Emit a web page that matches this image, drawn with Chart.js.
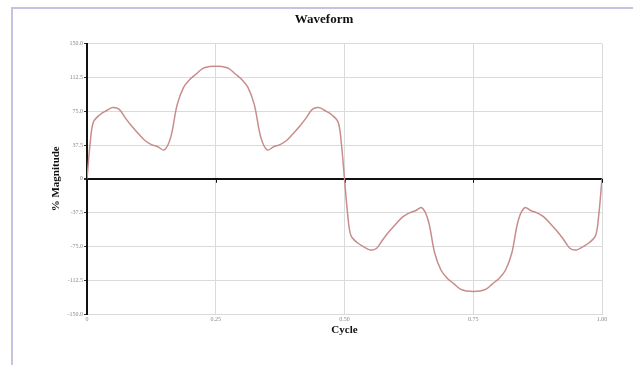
<!DOCTYPE html>
<html>
<head>
<meta charset="utf-8">
<title>Waveform</title>
<script src="https://cdn.jsdelivr.net/npm/chart.js@4.4.1/dist/chart.umd.min.js"></script>
<style>
  html, body { margin: 0; padding: 0; background: #ffffff; overflow: hidden; }
  #frame {
    position: absolute; left: 11px; top: 7px; width: 640px; height: 380px;
    border-left: 2px solid #c3c3e3; border-top: 2px solid #c3c3e3;
  }
  #wrap { position: absolute; left: 12px; top: 8px; width: 621px; height: 357px; }
</style>
</head>
<body>
<div id="frame"></div>
<div id="wrap"><canvas id="chart" width="621" height="357"></canvas></div>
<script>
// One cycle of the waveform: position in the cycle and % magnitude
const cycle = [
  0, 0.00625, 0.0125, 0.025, 0.0375, 0.05, 0.0625, 0.075, 0.0875, 0.1,
  0.1125, 0.125, 0.1375, 0.15, 0.1625, 0.175, 0.1875, 0.2, 0.2125, 0.225,
  0.2375, 0.25, 0.2625, 0.275, 0.2875, 0.3, 0.3125, 0.325, 0.3375, 0.35,
  0.3625, 0.375, 0.3875, 0.4, 0.4125, 0.425, 0.4375, 0.45, 0.4625, 0.475,
  0.4875, 0.49375, 0.5,
  0.50625, 0.5125, 0.525, 0.5375, 0.55, 0.5625, 0.575, 0.5875, 0.6,
  0.6125, 0.625, 0.6375, 0.65, 0.6625, 0.675, 0.6875, 0.7, 0.7125, 0.725,
  0.7375, 0.75, 0.7625, 0.775, 0.7875, 0.8, 0.8125, 0.825, 0.8375, 0.85,
  0.8625, 0.875, 0.8875, 0.9, 0.9125, 0.925, 0.9375, 0.95, 0.9625, 0.975,
  0.9875, 0.99375, 1.0
];
const magnitude = [
  0, 40, 63, 71, 75.5, 79, 77, 67, 58, 50,
  42.5, 38, 35.5, 32, 46, 82, 101.5, 110.5, 116.5, 122.5,
  124.5, 125, 124.5, 122.5, 116.5, 110.5, 101.5, 82, 46, 32,
  35.5, 38, 42.5, 50, 58, 67, 77, 79, 75.5, 71,
  63, 40, 0,
  -40, -63, -71, -75.5, -79, -77, -67, -58, -50,
  -42.5, -38, -35.5, -32, -46, -82, -101.5, -110.5, -116.5, -122.5,
  -124.5, -125, -124.5, -122.5, -116.5, -110.5, -101.5, -82, -46, -32,
  -35.5, -38, -42.5, -50, -58, -67, -77, -79, -75.5, -71,
  -63, -40, 0
];
const xTickValues = [0, 0.25, 0.5, 0.75, 1.0];
const xTickLabels = ['0', '0.25', '0.50', '0.75', '1.00'];
const yTickValues = [-150, -112.5, -75, -37.5, 0, 37.5, 75, 112.5, 150];
const yTickLabels = ['-150.0', '-112.5', '-75.0', '-37.5', '0', '37.5', '75.0', '112.5', '150.0'];

const serif = '"Liberation Serif", "Times New Roman", "DejaVu Serif", serif';
const gridGrey = '#dadada';

// short black ticks hanging off the zero line at each cycle mark
const zeroLineTicks = {
  id: 'zeroLineTicks',
  beforeDatasetsDraw(chart) {
    const { ctx, scales: { x, y } } = chart;
    const y0 = y.getPixelForValue(0);
    ctx.save();
    ctx.strokeStyle = '#111';
    ctx.lineWidth = 1;
    xTickValues.forEach(v => {
      if (v === 0) return;
      const px = Math.round(x.getPixelForValue(v)) + 0.5;
      ctx.beginPath();
      ctx.moveTo(px, y0);
      ctx.lineTo(px, y0 + 4);
      ctx.stroke();
    });
    ctx.restore();
  }
};

new Chart(document.getElementById('chart'), {
  type: 'line',
  data: {
    datasets: [{
      data: cycle.map((c, i) => ({ x: c, y: magnitude[i] })),
      borderColor: '#c98c8c',
      borderWidth: 1.5,
      pointRadius: 0,
      tension: 0.35,
      fill: false
    }]
  },
  options: {
    responsive: false,
    animation: false,
    layout: { padding: { left: 34, right: 31, top: 0, bottom: 24 } },
    plugins: {
      legend: { display: false },
      tooltip: { enabled: false },
      title: {
        display: true,
        text: 'Waveform',
        color: '#111',
        font: { family: serif, size: 13, weight: 'bold' },
        padding: { top: 4, bottom: 16 }
      }
    },
    scales: {
      x: {
        type: 'linear',
        min: 0,
        max: 1,
        afterFit(scale) { scale.height = 27; },
        afterBuildTicks(scale) { scale.ticks = xTickValues.map(v => ({ value: v })); },
        ticks: {
          color: '#888',
          font: { family: serif, size: 6 },
          padding: 2,
          maxRotation: 0,
          autoSkip: false,
          callback: (v) => xTickLabels[xTickValues.indexOf(v)] ?? ''
        },
        grid: { color: gridGrey, lineWidth: 1, drawTicks: false },
        border: { color: gridGrey, width: 1 },
        title: {
          display: true,
          text: 'Cycle',
          color: '#111',
          font: { family: serif, size: 11, weight: 'bold' },
          padding: 4
        }
      },
      y: {
        type: 'linear',
        min: -150,
        max: 150,
        afterFit(scale) { scale.width = 41; },
        afterBuildTicks(scale) { scale.ticks = yTickValues.map(v => ({ value: v })); },
        ticks: {
          color: '#888',
          font: { family: serif, size: 6 },
          padding: 1,
          autoSkip: false,
          callback: (v) => yTickLabels[yTickValues.indexOf(v)] ?? ''
        },
        grid: {
          color: (c) => (c.tick && c.tick.value === 0 ? '#111' : gridGrey),
          lineWidth: (c) => (c.tick && c.tick.value === 0 ? 2 : 1),
          tickColor: '#333',
          tickLength: 3
        },
        border: { color: '#111', width: 2 },
        title: {
          display: true,
          text: '% Magnitude',
          color: '#111',
          font: { family: serif, size: 11, weight: 'bold' },
          padding: 4
        }
      }
    }
  },
  plugins: [zeroLineTicks]
});
</script>
</body>
</html>
